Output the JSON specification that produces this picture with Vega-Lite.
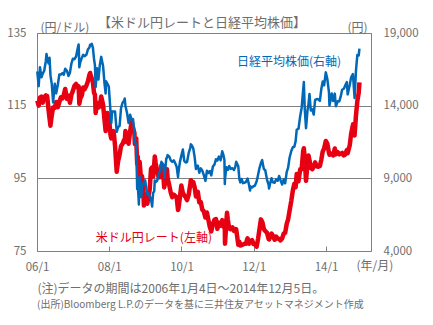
{
"$schema":"https://vega.github.io/schema/vega-lite/v6.json",
"width":334,"height":218,
"autosize":{"type":"none"},
"padding":{"left":37,"top":33,"right":62,"bottom":74},
"background":"white",
"config":{"view":{"stroke":"#808080","strokeWidth":1},"font":"Noto Sans CJK JP",
"axis":{"labelFont":"Noto Sans CJK JP","titleFont":"Noto Sans CJK JP","labelColor":"#6e6e6e","titleColor":"#6e6e6e","titleFontWeight":"normal","labelFontSize":11.5,"titleFontSize":12,"domain":false}},
"title":{"text":"【米ドル円レートと日経平均株価】","anchor":"start","frame":"group","dx":61,"dy":9,"offset":0,"fontSize":13,"fontWeight":"normal","color":"#6e6e6e","font":"Noto Sans CJK JP"},
"data":{"values":[
{"d":"2006-01-04","u":116.4,"n":16361},{"d":"2006-01-18","u":115.0,"n":15341},{"d":"2006-01-31","u":117.2,"n":16650},{"d":"2006-02-15","u":117.5,"n":15950},{"d":"2006-02-28","u":115.8,"n":16205},{"d":"2006-03-15","u":117.3,"n":16400},{"d":"2006-03-31","u":117.8,"n":17059},{"d":"2006-04-07","u":117.5,"n":17563},{"d":"2006-04-14","u":117.6,"n":17233},{"d":"2006-04-28","u":113.8,"n":16906},{"d":"2006-05-08","u":111.5,"n":17300},{"d":"2006-05-17","u":109.5,"n":16100},{"d":"2006-05-31","u":112.5,"n":15467},{"d":"2006-06-13","u":114.5,"n":14219},{"d":"2006-06-30","u":114.4,"n":15505},{"d":"2006-07-14","u":116.0,"n":14845},{"d":"2006-07-31","u":114.6,"n":15456},{"d":"2006-08-15","u":116.0,"n":16150},{"d":"2006-08-31","u":117.3,"n":16140},{"d":"2006-09-15","u":117.0,"n":16240},{"d":"2006-09-29","u":118.0,"n":16127},{"d":"2006-10-13","u":119.6,"n":16537},{"d":"2006-10-31","u":116.9,"n":16399},{"d":"2006-11-15","u":117.8,"n":16050},{"d":"2006-11-30","u":115.8,"n":16274},{"d":"2006-12-15","u":118.0,"n":16900},{"d":"2006-12-29","u":119.0,"n":17225},
{"d":"2007-01-15","u":120.5,"n":17200},{"d":"2007-01-31","u":121.0,"n":17383},{"d":"2007-02-15","u":120.0,"n":17900},{"d":"2007-02-26","u":120.3,"n":18215},{"d":"2007-03-05","u":115.5,"n":16642},{"d":"2007-03-15","u":117.0,"n":17000},{"d":"2007-03-30","u":117.8,"n":17287},{"d":"2007-04-13","u":120.0,"n":17500},{"d":"2007-04-27","u":119.5,"n":17400},{"d":"2007-05-15","u":120.5,"n":17500},{"d":"2007-05-31","u":121.7,"n":17875},{"d":"2007-06-15","u":123.5,"n":18000},{"d":"2007-06-22","u":124.0,"n":18190},{"d":"2007-06-29","u":123.2,"n":18138},{"d":"2007-07-09","u":122.5,"n":18261},{"d":"2007-07-20","u":121.5,"n":18000},{"d":"2007-07-31","u":118.6,"n":17248},{"d":"2007-08-10","u":118.0,"n":16764},{"d":"2007-08-17","u":113.0,"n":15273},{"d":"2007-08-31","u":115.8,"n":16569},{"d":"2007-09-14","u":114.5,"n":15800},{"d":"2007-09-28","u":114.8,"n":16785},{"d":"2007-10-12","u":117.5,"n":17358},{"d":"2007-10-31","u":115.3,"n":16737},{"d":"2007-11-15","u":111.0,"n":15500},{"d":"2007-11-26","u":108.0,"n":14837},{"d":"2007-11-30","u":111.2,"n":15680},{"d":"2007-12-14","u":113.0,"n":15500},{"d":"2007-12-28","u":112.0,"n":15307},
{"d":"2008-01-15","u":106.8,"n":13500},{"d":"2008-01-22","u":106.0,"n":12800},{"d":"2008-01-31","u":106.4,"n":13592},{"d":"2008-02-15","u":108.0,"n":13600},{"d":"2008-02-29","u":104.0,"n":13603},{"d":"2008-03-17","u":96.8,"n":12200},{"d":"2008-03-31","u":99.7,"n":12525},{"d":"2008-04-15","u":101.5,"n":12600},{"d":"2008-04-30","u":103.9,"n":13849},{"d":"2008-05-15","u":104.5,"n":14200},{"d":"2008-05-30","u":105.5,"n":14338},{"d":"2008-06-06","u":105.0,"n":14489},{"d":"2008-06-13","u":108.0,"n":14000},{"d":"2008-06-30","u":106.2,"n":13481},{"d":"2008-07-15","u":104.5,"n":12800},{"d":"2008-07-31","u":108.0,"n":13376},{"d":"2008-08-15","u":110.5,"n":13020},{"d":"2008-08-29","u":108.8,"n":13072},{"d":"2008-09-12","u":107.5,"n":12214},{"d":"2008-09-16","u":104.5,"n":11609},{"d":"2008-09-30","u":106.0,"n":11259},{"d":"2008-10-10","u":99.0,"n":8276},{"d":"2008-10-16","u":101.0,"n":8458},{"d":"2008-10-24","u":94.0,"n":7649},{"d":"2008-10-27","u":93.5,"n":7200},{"d":"2008-10-31","u":98.5,"n":8576},{"d":"2008-11-04","u":99.5,"n":9114},{"d":"2008-11-20","u":94.0,"n":7703},{"d":"2008-11-28","u":95.6,"n":8512},{"d":"2008-12-10","u":92.5,"n":8660},{"d":"2008-12-17","u":87.5,"n":8612},{"d":"2008-12-30","u":90.6,"n":8859},
{"d":"2009-01-15","u":89.5,"n":8023},{"d":"2009-01-21","u":88.0,"n":7901},{"d":"2009-01-30","u":89.9,"n":7994},{"d":"2009-02-13","u":91.8,"n":7780},{"d":"2009-02-27","u":97.6,"n":7568},{"d":"2009-03-10","u":98.0,"n":7054},{"d":"2009-03-20","u":95.5,"n":8000},{"d":"2009-03-31","u":98.9,"n":8109},{"d":"2009-04-06","u":101.0,"n":8857},{"d":"2009-04-15","u":99.2,"n":8743},{"d":"2009-04-30","u":97.0,"n":8828},{"d":"2009-05-15","u":95.3,"n":9265},{"d":"2009-05-29","u":95.3,"n":9522},{"d":"2009-06-12","u":98.5,"n":10135},{"d":"2009-06-30","u":96.4,"n":9958},{"d":"2009-07-10","u":92.5,"n":9288},{"d":"2009-07-13","u":93.0,"n":9050},{"d":"2009-07-31","u":94.7,"n":10356},{"d":"2009-08-07","u":97.5,"n":10412},{"d":"2009-08-14","u":95.0,"n":10597},{"d":"2009-08-31","u":93.0,"n":10492},{"d":"2009-09-15","u":91.0,"n":10217},{"d":"2009-09-30","u":89.8,"n":10133},{"d":"2009-10-15","u":90.5,"n":10238},{"d":"2009-10-30","u":90.1,"n":10034},{"d":"2009-11-13","u":89.8,"n":9804},{"d":"2009-11-27","u":86.3,"n":9081},{"d":"2009-11-30","u":86.5,"n":9345},{"d":"2009-12-15","u":89.5,"n":10083},{"d":"2009-12-30","u":93.0,"n":10546},
{"d":"2010-01-15","u":91.0,"n":10982},{"d":"2010-01-29","u":90.3,"n":10198},{"d":"2010-02-12","u":89.8,"n":10092},{"d":"2010-02-26","u":89.0,"n":10126},{"d":"2010-03-15","u":90.5,"n":10752},{"d":"2010-03-31","u":93.4,"n":11089},{"d":"2010-04-05","u":94.5,"n":11339},{"d":"2010-04-15","u":93.0,"n":11273},{"d":"2010-04-30","u":94.0,"n":11057},{"d":"2010-05-14","u":92.5,"n":10462},{"d":"2010-05-27","u":90.0,"n":9639},{"d":"2010-05-31","u":91.3,"n":9768},{"d":"2010-06-15","u":91.3,"n":9879},{"d":"2010-06-30","u":88.4,"n":9382},{"d":"2010-07-15","u":88.5,"n":9685},{"d":"2010-07-30","u":86.4,"n":9537},{"d":"2010-08-13","u":86.0,"n":9253},{"d":"2010-08-31","u":84.2,"n":8824},{"d":"2010-09-15","u":85.6,"n":9516},{"d":"2010-09-30","u":83.5,"n":9369},{"d":"2010-10-15","u":81.5,"n":9500},{"d":"2010-10-29","u":80.4,"n":9202},{"d":"2010-11-15","u":82.5,"n":9827},{"d":"2010-11-30","u":83.6,"n":9937},{"d":"2010-12-15","u":83.8,"n":10309},{"d":"2010-12-30","u":81.1,"n":10228},
{"d":"2011-01-14","u":82.8,"n":10499},{"d":"2011-01-31","u":82.0,"n":10237},{"d":"2011-02-17","u":83.5,"n":10857},{"d":"2011-02-28","u":81.7,"n":10624},{"d":"2011-03-11","u":82.9,"n":10254},{"d":"2011-03-15","u":81.0,"n":8605},{"d":"2011-03-17","u":77.0,"n":8962},{"d":"2011-03-31","u":83.2,"n":9755},{"d":"2011-04-06","u":85.5,"n":9615},{"d":"2011-04-15","u":83.5,"n":9591},{"d":"2011-04-28","u":81.2,"n":9849},{"d":"2011-05-13","u":81.0,"n":9648},{"d":"2011-05-31","u":81.5,"n":9693},{"d":"2011-06-15","u":80.5,"n":9574},{"d":"2011-06-30","u":80.6,"n":9816},{"d":"2011-07-08","u":81.0,"n":10137},{"d":"2011-07-29","u":76.7,"n":9833},{"d":"2011-08-09","u":77.5,"n":8944},{"d":"2011-08-19","u":76.5,"n":8719},{"d":"2011-08-31","u":76.6,"n":8955},{"d":"2011-09-15","u":76.8,"n":8668},{"d":"2011-09-30","u":77.0,"n":8700},{"d":"2011-10-14","u":77.0,"n":8747},{"d":"2011-10-31","u":78.5,"n":8988},{"d":"2011-11-15","u":77.0,"n":8541},{"d":"2011-11-25","u":77.7,"n":8160},{"d":"2011-11-30","u":77.7,"n":8434},{"d":"2011-12-15","u":78.0,"n":8377},{"d":"2011-12-30","u":76.9,"n":8455},
{"d":"2012-01-13","u":76.9,"n":8500},{"d":"2012-01-31","u":76.2,"n":8802},{"d":"2012-02-15","u":78.5,"n":9260},{"d":"2012-02-29","u":81.1,"n":9723},{"d":"2012-03-14","u":83.7,"n":10050},{"d":"2012-03-27","u":83.0,"n":10255},{"d":"2012-03-30","u":82.8,"n":10083},{"d":"2012-04-13","u":81.0,"n":9638},{"d":"2012-04-27","u":80.5,"n":9561},{"d":"2012-05-15","u":80.0,"n":8900},{"d":"2012-05-31","u":78.3,"n":8543},{"d":"2012-06-04","u":78.2,"n":8295},{"d":"2012-06-15","u":78.8,"n":8647},{"d":"2012-06-29","u":79.8,"n":9007},{"d":"2012-07-13","u":79.2,"n":8724},{"d":"2012-07-31","u":78.1,"n":8695},{"d":"2012-08-15","u":79.0,"n":8929},{"d":"2012-08-31","u":78.4,"n":8840},{"d":"2012-09-14","u":78.3,"n":9160},{"d":"2012-09-28","u":77.9,"n":8870},{"d":"2012-10-15","u":78.5,"n":8577},{"d":"2012-10-31","u":79.8,"n":8928},{"d":"2012-11-14","u":80.0,"n":8664},{"d":"2012-11-30","u":82.5,"n":9446},{"d":"2012-12-14","u":83.7,"n":9737},{"d":"2012-12-28","u":86.0,"n":10395},
{"d":"2013-01-15","u":88.8,"n":10879},{"d":"2013-01-31","u":91.7,"n":11139},{"d":"2013-02-15","u":93.5,"n":11173},{"d":"2013-02-28","u":92.6,"n":11559},{"d":"2013-03-11","u":96.2,"n":12350},{"d":"2013-03-29","u":94.2,"n":12398},{"d":"2013-04-15","u":97.5,"n":13275},{"d":"2013-04-30","u":97.5,"n":13860},{"d":"2013-05-15","u":102.5,"n":15096},{"d":"2013-05-22","u":103.3,"n":15627},{"d":"2013-05-31","u":100.5,"n":13775},{"d":"2013-06-13","u":94.3,"n":12445},{"d":"2013-06-28","u":99.1,"n":13677},{"d":"2013-07-08","u":101.3,"n":14109},{"d":"2013-07-18","u":100.0,"n":14808},{"d":"2013-07-31","u":97.9,"n":13668},{"d":"2013-08-15","u":97.5,"n":13752},{"d":"2013-08-30","u":98.2,"n":13389},{"d":"2013-09-13","u":99.4,"n":14404},{"d":"2013-09-30","u":98.3,"n":14456},{"d":"2013-10-15","u":98.2,"n":14441},{"d":"2013-10-31","u":98.4,"n":14327},{"d":"2013-11-15","u":100.2,"n":15165},{"d":"2013-11-29","u":102.4,"n":15662},{"d":"2013-12-13","u":103.2,"n":15403},{"d":"2013-12-30","u":105.3,"n":16291},
{"d":"2014-01-15","u":104.5,"n":15809},{"d":"2014-01-31","u":102.0,"n":14915},{"d":"2014-02-05","u":101.5,"n":14008},{"d":"2014-02-14","u":101.8,"n":14313},{"d":"2014-02-28","u":101.8,"n":14841},{"d":"2014-03-14","u":101.3,"n":14327},{"d":"2014-03-31","u":103.2,"n":14828},{"d":"2014-04-11","u":101.6,"n":13960},{"d":"2014-04-30","u":102.2,"n":14304},{"d":"2014-05-15","u":101.6,"n":14298},{"d":"2014-05-30","u":101.8,"n":14632},{"d":"2014-06-13","u":102.0,"n":15097},{"d":"2014-06-30","u":101.3,"n":15162},{"d":"2014-07-15","u":101.6,"n":15395},{"d":"2014-07-31","u":102.8,"n":15621},{"d":"2014-08-08","u":101.9,"n":14778},{"d":"2014-08-29","u":104.1,"n":15425},{"d":"2014-09-12","u":107.2,"n":15948},{"d":"2014-09-30","u":109.7,"n":16174},{"d":"2014-10-01","u":109.9,"n":16082},{"d":"2014-10-17","u":106.8,"n":14533},{"d":"2014-10-31","u":112.3,"n":16414},{"d":"2014-11-14","u":116.3,"n":17490},{"d":"2014-11-28","u":118.6,"n":17460},{"d":"2014-12-05","u":121.4,"n":17921}
]},
"layer":[
{"layer":[
{"mark":{"type":"line","color":"#e60012","strokeWidth":4.5,"strokeJoin":"round"},
"encoding":{
"x":{"field":"d","type":"temporal","scale":{"domain":["2006-01-01","2015-04-01"]},
"axis":{"values":[{"year":2006,"month":1,"date":1},{"year":2008,"month":1,"date":1},{"year":2010,"month":1,"date":1},{"year":2012,"month":1,"date":1},{"year":2014,"month":1,"date":1}],
"labelExpr":"timeFormat(datum.value, '%y') + '/1'","grid":false,"tickSize":-5,"tickColor":"#808080","labelPadding":15,"labelFlush":false,"labelOverlap":false,
"title":"(注)データの期間は2006年1月4日～2014年12月5日。",
"titleAnchor":"start","titleAlign":"left","titleX":0,"titleY":32,"titleBaseline":"top","titleFontSize":12}},
"y":{"field":"u","type":"quantitative","scale":{"domain":[75,135]},
"axis":{"values":[75,95,115,135],"ticks":false,"grid":true,"gridColor":"#808080","gridOpacity":1,"labelPadding":11,
"title":"(円/ドル)","titleAngle":0,"titleAlign":"left","titleBaseline":"middle","titleX":3,"titleY":-6}}}},
{"data":{"values":[{}]},
"mark":{"type":"text","text":"米ドル円レート(左軸)","color":"#e60012","fontSize":12,"align":"left","baseline":"middle","font":"Noto Sans CJK JP"},
"encoding":{"x":{"datum":{"year":2007,"month":8,"date":19},"type":"temporal","scale":{"domain":["2006-01-01","2015-04-01"]}},
"y":{"datum":78.6,"type":"quantitative","scale":{"domain":[75,135]}}}},
{"data":{"values":[{}]},
"mark":{"type":"text","text":"(年/月)","color":"#6e6e6e","fontSize":12,"align":"center","baseline":"middle","dy":15,"font":"Noto Sans CJK JP"},
"encoding":{"x":{"datum":{"year":2015,"month":5,"date":10},"type":"temporal","scale":{"domain":["2006-01-01","2015-04-01"]}},
"y":{"datum":75,"type":"quantitative","scale":{"domain":[75,135]}}}},
{"data":{"values":[{}]},
"mark":{"type":"text","text":"(出所)Bloomberg L.P.のデータを基に三井住友アセットマネジメント作成","color":"#6e6e6e","fontSize":10,"align":"left","baseline":"middle","dy":54,"font":"Noto Sans CJK JP"},
"encoding":{"x":{"datum":{"year":2006,"month":1,"date":1},"type":"temporal","scale":{"domain":["2006-01-01","2015-04-01"]}},
"y":{"datum":75,"type":"quantitative","scale":{"domain":[75,135]}}}}
]},
{"layer":[
{"mark":{"type":"line","color":"#0068b7","strokeWidth":2.5,"strokeJoin":"round"},
"encoding":{
"x":{"field":"d","type":"temporal","scale":{"domain":["2006-01-01","2015-04-01"]}},
"y":{"field":"n","type":"quantitative","scale":{"domain":[4000,19000]},
"axis":{"orient":"right","values":[4000,9000,14000,19000],"labelExpr":"format(datum.value, ',.0f')","ticks":false,"grid":false,"labelPadding":12,
"title":"(円)","titleAngle":0,"titleAlign":"right","titleBaseline":"middle","titleX":-4,"titleY":-6}}}},
{"data":{"values":[{}]},
"mark":{"type":"text","text":"日経平均株価(右軸)","color":"#0068b7","fontSize":12,"align":"left","baseline":"middle","font":"Noto Sans CJK JP"},
"encoding":{"x":{"datum":{"year":2011,"month":7,"date":16},"type":"temporal","scale":{"domain":["2006-01-01","2015-04-01"]}},
"y":{"datum":17005,"type":"quantitative","scale":{"domain":[4000,19000]}}}}
]}
],
"resolve":{"scale":{"y":"independent"}}
}
